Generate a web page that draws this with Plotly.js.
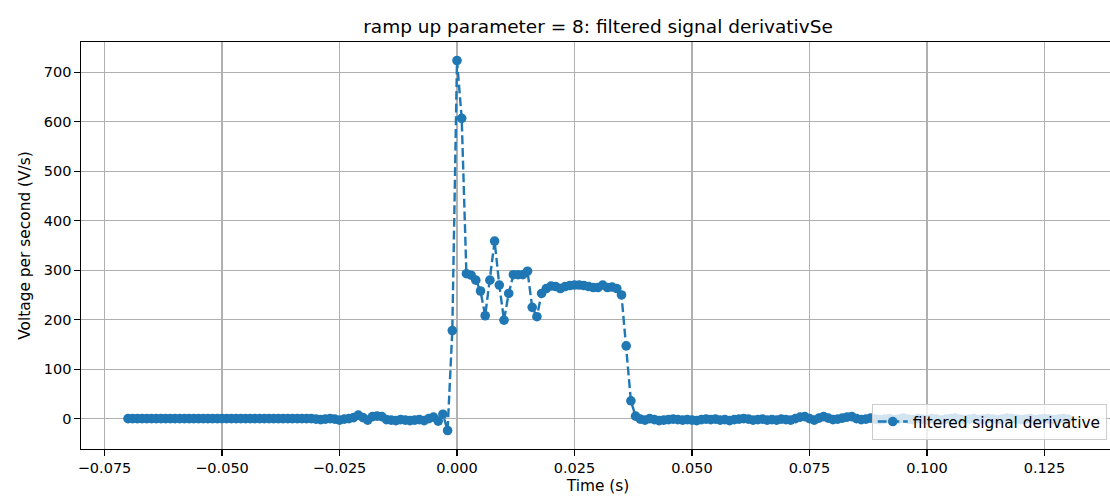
<!DOCTYPE html>
<html>
<head>
<meta charset="utf-8">
<script src="https://cdn.plot.ly/plotly-3.0.1.min.js"></script>
<style>
html,body{margin:0;padding:0;overflow:hidden;background:#fff;}
#chart{width:1115px;height:497px;}
</style>
</head>
<body>
<div id="chart"></div>
<script>
// time samples (s)
const timeS = [
-0.070,-0.069,-0.068,-0.067,-0.066,-0.065,-0.064,-0.063,-0.062,-0.061,
-0.060,-0.059,-0.058,-0.057,-0.056,-0.055,-0.054,-0.053,-0.052,-0.051,
-0.050,-0.049,-0.048,-0.047,-0.046,-0.045,-0.044,-0.043,-0.042,-0.041,
-0.040,-0.039,-0.038,-0.037,-0.036,-0.035,-0.034,-0.033,-0.032,-0.031,
-0.030,-0.029,-0.028,-0.027,-0.026,-0.025,-0.024,-0.023,-0.022,-0.021,
-0.020,-0.019,-0.018,-0.017,-0.016,-0.015,-0.014,-0.013,-0.012,-0.011,
-0.010,-0.009,-0.008,-0.007,-0.006,-0.005,-0.004,-0.003,-0.002,-0.001,
0.000,0.001,0.002,0.003,0.004,0.005,0.006,0.007,0.008,0.009,
0.010,0.011,0.012,0.013,0.014,0.015,0.016,0.017,0.018,0.019,
0.020,0.021,0.022,0.023,0.024,0.025,0.026,0.027,0.028,0.029,
0.030,0.031,0.032,0.033,0.034,0.035,0.036,0.037,0.038,0.039,
0.040,0.041,0.042,0.043,0.044,0.045,0.046,0.047,0.048,0.049,
0.050,0.051,0.052,0.053,0.054,0.055,0.056,0.057,0.058,0.059,
0.060,0.061,0.062,0.063,0.064,0.065,0.066,0.067,0.068,0.069,
0.070,0.071,0.072,0.073,0.074,0.075,0.076,0.077,0.078,0.079,
0.080,0.081,0.082,0.083,0.084,0.085,0.086,0.087,0.088,0.089,
0.090,0.091,0.092,0.093,0.094,0.095,0.096,0.097,0.098,0.099,
0.100,0.101,0.102,0.103,0.104,0.105,0.106,0.107,0.108,0.109,
0.110,0.111,0.112,0.113,0.114,0.115,0.116,0.117,0.118,0.119,
0.120,0.121,0.122,0.123,0.124,0.125,0.126,0.127,0.128,0.129,
0.130
];
// filtered signal derivative (V/s)
const derivative = [
0,0,0,0,0,0,0,0,0,0,
0,0,0,0,0,0,0,0,0,0,
0,0,0,0,0,0,0,0,0,0,
0,0,0,0,0,0,0,0,0,0,
-1,-2,-1,0,-1,-3,-1,0,2,7,
2,-3,4,5,4,-2,-3,-4,-2,-3,
-4,-3,-2,-4,0,3,-5,9,-24,178,
724,607,293,290,280,258,208,280,359,270,
199,253,291,291,291,298,225,206,253,263,
268,267,263,267,269,270,270,269,267,265,
265,270,265,266,263,250,147,36,5,-1,
-3,0,-2,-4,-3,-2,-1,-2,-3,-2,
-3,-4,-2,-1,-2,-1,-3,-2,-4,-2,
-1,0,-1,-3,-2,-1,-3,-2,-3,-1,
-2,-3,0,3,4,0,-3,1,4,1,
-2,-1,1,3,4,0,-2,-1,1,-1,
-2,-1,0,-2,-1,1,-1,-2,0,-1,
-2,0,-1,-3,-1,0,1,-1,-2,-1,
0,-2,-1,0,-1,-2,-1,1,0,-1,
-2,-1,0,-2,-1,0,-1,-2,-1,0,
-1
];
const xTickVals = [-0.075,-0.05,-0.025,0,0.025,0.05,0.075,0.1,0.125];
const xTickText = ["\u22120.075","\u22120.050","\u22120.025","0.000","0.025","0.050","0.075","0.100","0.125"];
const yTickVals = [0,100,200,300,400,500,600,700];
const yTickText = ["0","100","200","300","400","500","600","700"];

const font = "DejaVu Sans, sans-serif";
const trace = {
  x: timeS, y: derivative, type: "scatter", mode: "lines+markers",
  name: "filtered signal derivative",
  line: {color: "#1f77b4", width: 2.4, dash: "8.9px,3.8px"},
  marker: {color: "#1f77b4", size: 9.6}
};
const layout = {
  width: 1115, height: 497,
  margin: {l: 81, r: 0, t: 42, b: 48},
  paper_bgcolor: "#fff", plot_bgcolor: "#fff",
  font: {family: font, size: 15, color: "#000"},
  title: {text: "ramp up parameter = 8: filtered signal derivativSe", font: {family: font, size: 18.5, color: "#000"},
          x: 0.5, xref: "paper", xanchor: "center", y: 1 - 27/497, yanchor: "middle"},
  xaxis: {
    range: [-0.08, 0.14], tickvals: xTickVals, ticktext: xTickText,
    showgrid: true, gridcolor: "#b0b0b0", gridwidth: 1.2,
    zeroline: false, showline: true, linecolor: "#000", linewidth: 1.1, mirror: true,
    ticks: "outside", ticklen: 5.5, tickcolor: "#000", tickwidth: 1.1,
    tickfont: {family: font, size: 14.5, color: "#000"},
    title: {text: "Time (s)", font: {family: font, size: 15.4, color: "#000"}, standoff: 5}
  },
  yaxis: {
    range: [-61.4, 761.4], tickvals: yTickVals, ticktext: yTickText,
    showgrid: true, gridcolor: "#b0b0b0", gridwidth: 1.2,
    zeroline: false, showline: true, linecolor: "#000", linewidth: 1.1, mirror: true,
    ticks: "outside", ticklen: 5.5, tickcolor: "#000", tickwidth: 1.1,
    tickfont: {family: font, size: 14.5, color: "#000"},
    title: {text: "Voltage per second (V/s)", font: {family: font, size: 15.4, color: "#000"}, standoff: 9}
  },
  showlegend: true,
  legend: {x: 0.992, y: 0.022, xanchor: "right", yanchor: "bottom",
    bgcolor: "rgba(255,255,255,0.8)", bordercolor: "#cccccc", borderwidth: 1,
    font: {family: font, size: 15.4, color: "#000"}}
};
Plotly.newPlot("chart", [trace], layout, {displayModeBar: false, staticPlot: true});
</script>
</body>
</html>
